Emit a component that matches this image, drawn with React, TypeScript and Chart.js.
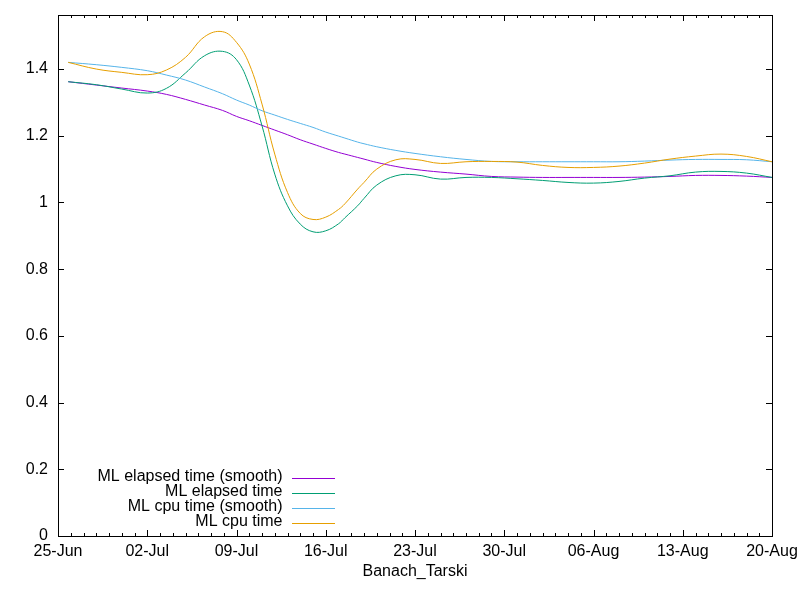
import React, { useEffect, useRef } from 'react';
import { Chart, registerables } from 'chart.js';

Chart.register(...registerables);

// Days since 25-Jun
const DAYS = [0.8, 3, 5, 7, 8.5, 10, 11.5, 12.9, 14, 15, 16, 17, 18, 19, 20, 21, 22, 22.5, 23.5, 24, 25, 26.5, 28, 30, 32, 34, 36, 38, 40, 42, 44, 46, 48, 50, 52, 54, 56];

const ELAPSED_SMOOTH = [1.362, 1.352, 1.343, 1.334, 1.324, 1.309, 1.292, 1.276, 1.258, 1.245, 1.231, 1.217, 1.203, 1.188, 1.175, 1.162, 1.150, 1.145, 1.135, 1.130, 1.120, 1.108, 1.099, 1.091, 1.085, 1.078, 1.076, 1.075, 1.075, 1.075, 1.075, 1.076, 1.078, 1.081, 1.081, 1.079, 1.075];
const ELAPSED = [1.362, 1.353, 1.340, 1.328, 1.342, 1.388, 1.440, 1.453, 1.428, 1.352, 1.230, 1.085, 0.990, 0.935, 0.912, 0.915, 0.936, 0.954, 0.990, 1.012, 1.052, 1.080, 1.083, 1.070, 1.075, 1.075, 1.071, 1.066, 1.060, 1.058, 1.063, 1.073, 1.080, 1.091, 1.093, 1.088, 1.075];
const CPU_SMOOTH = [1.420, 1.413, 1.405, 1.395, 1.382, 1.367, 1.346, 1.326, 1.307, 1.292, 1.275, 1.262, 1.249, 1.237, 1.225, 1.211, 1.199, 1.193, 1.181, 1.176, 1.167, 1.156, 1.147, 1.137, 1.129, 1.123, 1.122, 1.122, 1.122, 1.122, 1.122, 1.124, 1.127, 1.129, 1.129, 1.128, 1.122];
const CPU = [1.420, 1.400, 1.390, 1.383, 1.397, 1.435, 1.497, 1.512, 1.480, 1.415, 1.295, 1.145, 1.030, 0.967, 0.949, 0.956, 0.979, 0.996, 1.040, 1.060, 1.100, 1.128, 1.129, 1.117, 1.122, 1.123, 1.121, 1.111, 1.105, 1.105, 1.109, 1.118, 1.130, 1.139, 1.145, 1.138, 1.122];

const SERIES_LABELS = ['ML elapsed time (smooth)', 'ML elapsed time', 'ML cpu time (smooth)', 'ML cpu time'];
const SERIES_COLORS = ['#9400d3', '#009e73', '#56b4e9', '#e69f00'];

const X_MIN = 0;
const X_MAX = 56;
const X_TICKS = [0, 7, 14, 21, 28, 35, 42, 49, 56];
const X_TICK_LABELS = ['25-Jun', '02-Jul', '09-Jul', '16-Jul', '23-Jul', '30-Jul', '06-Aug', '13-Aug', '20-Aug'];
const Y_MIN = 0;
const Y_MAX = 1.562;
const Y_TICKS = [0, 0.2, 0.4, 0.6, 0.8, 1, 1.2, 1.4];
const Y_TICK_LABELS = ['0', '0.2', '0.4', '0.6', '0.8', '1', '1.2', '1.4'];
const X_TITLE = 'Banach_Tarski';

const FONT_FAMILY = '"Liberation Sans", Arial, sans-serif';
const FONT_SIZE = 16;

const MAJOR = 6;
const MINOR = 3;

const framePlugin = {
  id: 'gnuFrame',
  afterDatasetsDraw(chart: any) {
    const { ctx, chartArea: a, scales } = chart;
    const x = scales.x;
    const y = scales.y;
    ctx.save();
    ctx.strokeStyle = '#000';
    ctx.lineWidth = 1;
    ctx.beginPath();
    for (const v of Y_TICKS) {
      const py = Math.round(y.getPixelForValue(v)) + 0.5;
      ctx.moveTo(a.left, py);
      ctx.lineTo(a.left + MAJOR, py);
      ctx.moveTo(a.right, py);
      ctx.lineTo(a.right - MAJOR, py);
    }
    for (let d = X_MIN; d <= X_MAX; d++) {
      const len = X_TICKS.includes(d) ? MAJOR : MINOR;
      const px = Math.round(x.getPixelForValue(d)) + 0.5;
      ctx.moveTo(px, a.bottom);
      ctx.lineTo(px, a.bottom - len);
      ctx.moveTo(px, a.top);
      ctx.lineTo(px, a.top + len);
    }
    ctx.stroke();
    ctx.strokeRect(Math.round(a.left) + 0.5, Math.round(a.top) + 0.5, Math.round(a.right - a.left), Math.round(a.bottom - a.top));
    ctx.restore();
  },
};

const legendPlugin = {
  id: 'gnuLegend',
  afterDraw(chart: any) {
    const { ctx, chartArea: a } = chart;
    const textRight = a.left + 224.5;
    const sampleStart = a.left + 234;
    const sampleEnd = a.left + 277;
    const firstRow = a.bottom - 57.7;
    const rowStep = 14.8;
    ctx.save();
    ctx.font = `${FONT_SIZE}px ${FONT_FAMILY}`;
    ctx.textAlign = 'right';
    ctx.textBaseline = 'middle';
    chart.data.datasets.forEach((ds: any, i: number) => {
      const yy = Math.round(firstRow + i * rowStep) + 0.5;
      ctx.fillStyle = '#000';
      ctx.fillText(ds.label, textRight, yy - 1.5);
      ctx.strokeStyle = ds.borderColor;
      ctx.lineWidth = 1;
      ctx.beginPath();
      ctx.moveTo(sampleStart, yy);
      ctx.lineTo(sampleEnd, yy);
      ctx.stroke();
    });
    ctx.restore();
  },
};

export default function App() {
  const ref = useRef<HTMLCanvasElement | null>(null);

  useEffect(() => {
    document.body.style.margin = '0';
    if (!ref.current) return;
    const seriesValues = [ELAPSED_SMOOTH, ELAPSED, CPU_SMOOTH, CPU];
    const datasets = seriesValues.map((vals, i) => ({
      label: SERIES_LABELS[i],
      data: DAYS.map((d, j) => ({ x: d, y: vals[j] })),
      borderColor: SERIES_COLORS[i],
      backgroundColor: SERIES_COLORS[i],
      borderWidth: 1,
      pointRadius: 0,
      fill: false,
      tension: 0.4,
      order: seriesValues.length - i,
    }));
    const tickFont = { family: FONT_FAMILY, size: FONT_SIZE };
    const chart = new Chart(ref.current, {
      type: 'line',
      data: { datasets },
      options: {
        animation: false,
        responsive: false,
        devicePixelRatio: 1,
        layout: { padding: { left: 0, right: 28, top: 15, bottom: 0 } },
        plugins: { legend: { display: false }, tooltip: { enabled: false } },
        scales: {
          x: {
            type: 'linear',
            min: X_MIN,
            max: X_MAX,
            grid: { display: false, drawTicks: false },
            border: { display: false },
            afterBuildTicks: (scale: any) => {
              scale.ticks = X_TICKS.map((v) => ({ value: v }));
            },
            afterFit: (scale: any) => {
              scale.height = 64;
              scale.paddingLeft = 0;
              scale.paddingRight = 0;
            },
            ticks: {
              autoSkip: false,
              maxRotation: 0,
              padding: 6,
              color: '#000',
              font: tickFont,
              callback: (_v: any, i: number) => X_TICK_LABELS[i],
            },
            title: {
              display: true,
              text: X_TITLE,
              color: '#000',
              font: tickFont,
              padding: { top: 0, bottom: 18.5 },
            },
          },
          y: {
            type: 'linear',
            min: Y_MIN,
            max: Y_MAX,
            grid: { display: false, drawTicks: false },
            border: { display: false },
            afterBuildTicks: (scale: any) => {
              scale.ticks = Y_TICKS.map((v) => ({ value: v }));
            },
            afterFit: (scale: any) => {
              scale.width = 58;
              scale.paddingTop = 0;
              scale.paddingBottom = 0;
            },
            ticks: {
              autoSkip: false,
              padding: 10,
              color: '#000',
              font: tickFont,
              callback: (_v: any, i: number) => Y_TICK_LABELS[i],
            },
          },
        },
      },
      plugins: [framePlugin, legendPlugin],
    });
    return () => chart.destroy();
  }, []);

  return (
    <div style={{ position: 'absolute', left: 0, top: 0, width: 800, height: 600, background: '#fff' }}>
      <canvas ref={ref} width={800} height={600} style={{ display: 'block' }} />
    </div>
  );
}
